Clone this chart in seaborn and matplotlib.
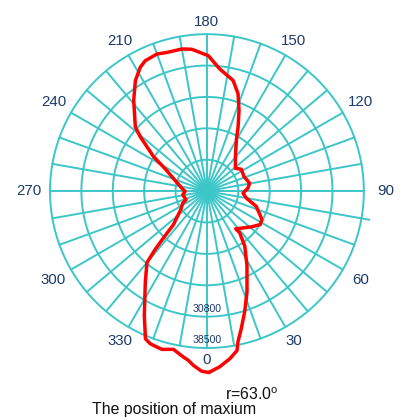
import numpy as np
import matplotlib
matplotlib.use("Agg")
import matplotlib.pyplot as plt
import seaborn as sns
import pandas as pd

# ---- data (angle in degrees, luminous intensity) ----
angles_deg = [0.6, 4.2, 7.8, 10.7, 11.6, 14.0, 17.3, 21.6, 28.2, 34.5, 38.2, 37.4,
              51.1, 57.9, 62.6, 64.9, 72.8, 80.0, 86.8, 94.2, 100.5, 111.4, 122.4,
              128.7, 140.4, 150.0, 154.1, 158.3, 162.3, 166.7, 174.0, 179.4, 186.1,
              190.0, 196.1, 200.0, 205.3, 208.3, 212.9, 218.9, 228.1, 230.8, 237.1,
              242.5, 247.5, 263.2, 270.9, 278.6, 292.4, 296.3, 305.3, 315.0, 317.1,
              318.4, 320.0, 326.0, 333.3, 337.4, 339.6, 342.2, 344.1, 348.1, 349.4,
              351.9, 353.7, 355.5, 358.3]
intensity = [44500, 43200, 41500, 39800, 37800, 34800, 31100, 26700, 20800, 16400, 13000, 11650,
             13980, 15440, 15180, 14530, 12670, 9810, 8870, 10100, 10660, 9770, 10000,
             8950, 10960, 14450, 17510, 21300, 25100, 27900, 30130, 33220, 35000,
             35400, 35400, 35790, 35390, 34500, 32300, 28600, 23600, 21100, 15600,
             11260, 9320, 6220, 5360, 5990, 5530, 6610, 7870, 11600, 15630,
             19100, 22890, 27040, 34180, 39240, 39940, 40170, 40370, 39680, 40150,
             41100, 41750, 42850, 44200]

theta_tick_values = [0, 30, 60, 90, 120, 150, 180, 210, 240, 270, 300, 330]
spoke_angles = list(range(0, 360, 10))
ring_values = [7700, 15400, 23100, 30800, 38500]
ring_labels = ["30800", "38500"]
ring_label_values = [30800, 38500]
long_spoke_angle = 80
long_spoke_length = 40460
max_text = r"r=63.0$^{\mathrm{o}}$"
caption = "The position of maxium"

# ---- style ----
sns.set_style("white")
plt.rcParams["font.family"] = ["Liberation Sans", "DejaVu Sans"]
plt.rcParams["mathtext.fontset"] = "custom"
plt.rcParams["mathtext.rm"] = "Liberation Sans"

GRID = "#3cc6c8"
NAVY = "#1c3a6a"
RMAX = 46000

fig = plt.figure(figsize=(4.05, 4.19), dpi=100)
ax = fig.add_axes([0.0479, 0.0964, 0.926, 0.895], projection="polar")
ax.set_theta_zero_location("S")
ax.set_theta_direction(1)

# grid: rings
tt = np.linspace(0, 2 * np.pi, 721)
for v in ring_values:
    ax.plot(tt, np.full_like(tt, v), color=GRID, lw=1.4, zorder=1)
# grid: spokes
for a in spoke_angles:
    L = long_spoke_length if a == long_spoke_angle else ring_values[-1]
    ax.plot([np.deg2rad(a)] * 2, [0, L], color=GRID, lw=1.4, zorder=1)

# curve
df = pd.DataFrame({"theta": np.deg2rad(angles_deg), "r": intensity})
df = pd.concat([df, df.iloc[[0]]], ignore_index=True)
sns.lineplot(data=df, x="theta", y="r", sort=False, estimator=None, ax=ax,
             color="#ff0000", lw=2.5, zorder=3)

# theta labels
for a in theta_tick_values:
    rl = 41400 + 2400 * abs(np.sin(np.deg2rad(a)))
    ax.text(np.deg2rad(a), rl, str(a), ha="center", va="center",
            fontsize=10.8, color=NAVY, zorder=4)

# radial labels
for lab, v in zip(ring_labels, ring_label_values):
    ax.text(0, v - 1850, lab, ha="center", va="center", fontsize=7.6,
            color=NAVY, zorder=4)

ax.set_ylim(0, RMAX)
ax.set_xticks([])
ax.set_yticks([])
ax.grid(False)
ax.set_xlabel("")
ax.set_ylabel("")
ax.spines["polar"].set_visible(False)
ax.patch.set_alpha(0)

fig.text(0.5556, 0.0573, max_text, ha="left", va="center", fontsize=11.4, color="#111111")
fig.text(0.2264, 0.023, caption, ha="left", va="center", fontsize=11.4, color="#111111")

fig.savefig("out.png", dpi=100)
